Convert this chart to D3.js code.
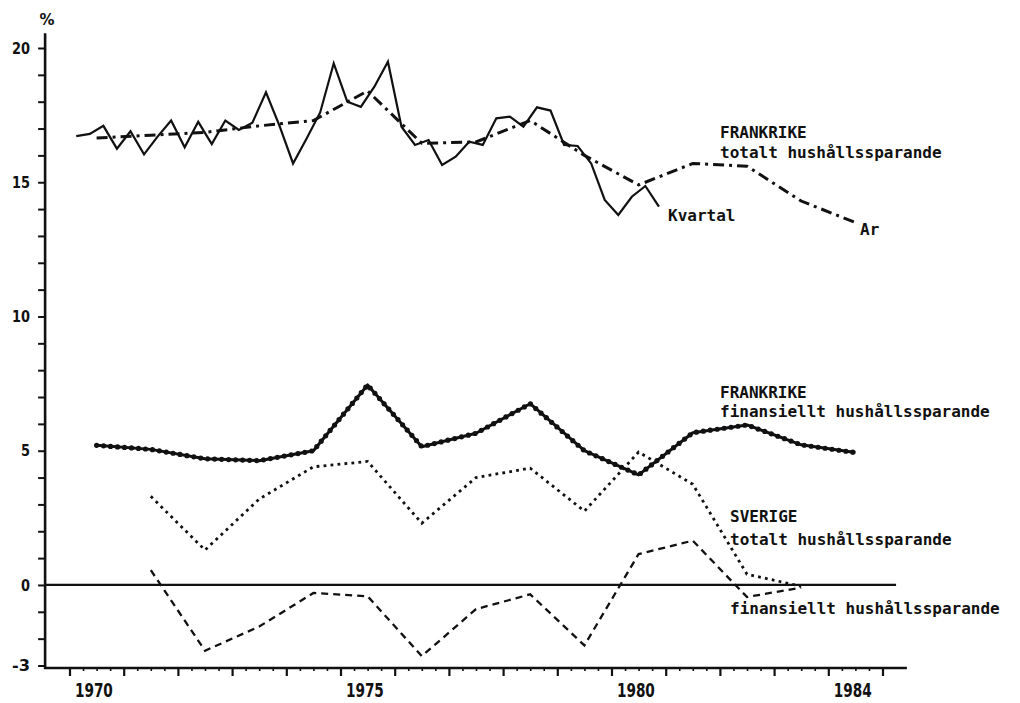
<!DOCTYPE html>
<html><head><meta charset="utf-8">
<script src="https://cdn.jsdelivr.net/npm/d3@7"></script>
<style>body{margin:0;background:#fff}</style>
</head><body>
<svg id="c" width="1020" height="703"></svg>
<script>
// ---------- data ----------
const years = d3.range(1970, 1985);                 // annual points 1970..1984
const quarterStartYear = 1970;                       // quarterly series starts 1970 Q1
const frTotalQuarterly = [
  16.72, 16.8, 17.1, 16.25, 16.9, 16.04, 16.7, 17.3,
  16.3, 17.25, 16.42, 17.3, 16.95, 17.22, 18.35, 17.1,
  15.7, 16.63, 17.6, 19.43, 18.0, 17.81, 18.56, 19.49,
  17.07, 16.39, 16.57, 15.64, 15.95, 16.51, 16.39, 17.38,
  17.44, 17.07, 17.79, 17.67, 16.39, 16.35, 15.7, 14.34,
  13.78, 14.46, 14.86, 14.09
];
const frTotalAnnual = [16.65, 16.75, 16.86, 17.1, 17.3, 18.4, 16.45, 16.5, 17.3, 16.0, 14.9, 15.7, 15.6, 14.3, 13.5];
const frFinAnnual   = [5.2, 5.05, 4.7, 4.63, 5.0, 7.45, 5.15, 5.65, 6.75, 5.0, 4.1, 5.67, 5.96, 5.22, 4.93];
const seYears = d3.range(1971, 1984);               // 1971..1983
const seTotalAnnual = [3.3, 1.3, 3.2, 4.4, 4.6, 2.3, 4.0, 4.35, 2.75, 4.95, 3.75, 0.4, -0.05];
const seFinAnnual   = [0.55, -2.45, -1.55, -0.3, -0.42, -2.65, -0.9, -0.35, -2.25, 1.15, 1.65, -0.45, -0.1];
const yTickLabels = [20, 15, 10, 5, 0, -3];
const xTickLabels = [1970, 1975, 1980, 1984];
const unitLabel = "%";

// ---------- setup ----------
const svg = d3.select("#c");
svg.append("rect").attr("width", 1020).attr("height", 703).attr("fill", "#fff");

const x = d3.scaleLinear().domain([1970, 1985]).range([69.5, 882.5]);
const y = d3.scaleLinear().domain([-3, 20]).range([665.5, 48]);
const axisY = 668;               // baseline of the x axis
const axisX = x(1969.55);        // position of the y axis

const ink = "#111";
const labelFont = "'DejaVu Sans Mono', monospace";
const numFont = "'DejaVu Sans', sans-serif";

// ---------- axes ----------
const yAxis = d3.axisLeft(y)
  .tickValues(d3.range(-3, 21))
  .tickSize(7)
  .tickPadding(8)
  .tickFormat(d => yTickLabels.includes(d) ? String(d) : "");
const gy = svg.append("g").attr("transform", `translate(${axisX},0)`).call(yAxis);
gy.select(".domain").remove();
gy.selectAll(".tick line").attr("stroke", ink).attr("stroke-width", 2);
gy.selectAll(".tick text")
  .attr("fill", ink)
  .style("font-family", numFont).style("font-weight", "bold").style("font-size", "16px")
  .each(function(d) {
    const s = yTickLabels.includes(d) ? String(d) : "";
    if (s) d3.select(this).attr("textLength", s.length * 9).attr("lengthAdjust", "spacingAndGlyphs");
  });

svg.append("line")
  .attr("x1", axisX).attr("x2", axisX)
  .attr("y1", y(20.55)).attr("y2", axisY + 1)
  .attr("stroke", ink).attr("stroke-width", 2.6);

// x axis: quarter ticks (short) and year ticks (long)
const quarterTicks = d3.range(0, 61).map(i => 1970 + i * 0.25);
const gxq = svg.append("g").attr("transform", `translate(0,${axisY})`)
  .call(d3.axisBottom(x).tickValues(quarterTicks.filter(t => t % 1 !== 0)).tickSize(3).tickFormat(""));
gxq.select(".domain").remove();
gxq.selectAll(".tick line").attr("stroke", ink).attr("stroke-width", 1.6);

const gxy = svg.append("g").attr("transform", `translate(0,${axisY})`)
  .call(d3.axisBottom(x).tickValues(d3.range(1970, 1986)).tickSize(8).tickFormat(""));
gxy.select(".domain").remove();
gxy.selectAll(".tick line").attr("stroke", ink).attr("stroke-width", 2.2);

svg.append("line")
  .attr("x1", axisX - 1).attr("x2", x(1985.45))
  .attr("y1", axisY).attr("y2", axisY)
  .attr("stroke", ink).attr("stroke-width", 2.4);

svg.append("g").selectAll("text").data(xTickLabels).join("text")
  .attr("x", d => x(d + 0.45))
  .attr("y", 697)
  .attr("text-anchor", "middle")
  .attr("fill", ink)
  .attr("textLength", 38).attr("lengthAdjust", "spacingAndGlyphs")
  .style("font-family", numFont).style("font-weight", "bold").style("font-size", "19px")
  .text(d => d);

// unit label
svg.append("text")
  .attr("x", axisX + 2).attr("y", 25)
  .attr("text-anchor", "middle")
  .attr("fill", ink)
  .style("font-family", numFont).style("font-weight", "bold").style("font-size", "15px")
  .text(unitLabel);

// zero line
svg.append("line")
  .attr("x1", axisX).attr("x2", x(1985.25))
  .attr("y1", y(0)).attr("y2", y(0))
  .attr("stroke", ink).attr("stroke-width", 2.2);

// ---------- series ----------
const line = d3.line().x(d => x(d[0])).y(d => y(d[1]));

const qData = frTotalQuarterly.map((v, i) => [quarterStartYear + i * 0.25 + 0.125, v]);
const frTotA = years.map((yr, i) => [yr + 0.5, frTotalAnnual[i]]);
const frFinA = years.map((yr, i) => [yr + 0.5, frFinAnnual[i]]);
const seTotA = seYears.map((yr, i) => [yr + 0.5, seTotalAnnual[i]]);
const seFinA = seYears.map((yr, i) => [yr + 0.5, seFinAnnual[i]]);

// Sverige finansiellt: dashed
svg.append("path").datum(seFinA).attr("d", line)
  .attr("fill", "none").attr("stroke", ink).attr("stroke-width", 2.3)
  .attr("stroke-dasharray", "7 5");

// Sverige totalt: dotted
svg.append("path").datum(seTotA).attr("d", line)
  .attr("fill", "none").attr("stroke", ink).attr("stroke-width", 2.8)
  .attr("stroke-dasharray", "2.8 4.2");

// Frankrike finansiellt: thick line with beads
svg.append("path").datum(frFinA).attr("d", line)
  .attr("fill", "none").attr("stroke", ink).attr("stroke-width", 3)
  .attr("stroke-linejoin", "round");
svg.append("path").datum(frFinA).attr("d", line)
  .attr("fill", "none").attr("stroke", ink).attr("stroke-width", 5.2)
  .attr("stroke-linecap", "round").attr("stroke-dasharray", "0 7");

// Frankrike totalt, annual: dash-dot
svg.append("path").datum(frTotA).attr("d", line)
  .attr("fill", "none").attr("stroke", ink).attr("stroke-width", 3)
  .attr("stroke-dasharray", "11 5 3 5");

// Frankrike totalt, quarterly: solid
svg.append("path").datum(qData).attr("d", line)
  .attr("fill", "none").attr("stroke", ink).attr("stroke-width", 2.2)
  .attr("stroke-linejoin", "miter");

// ---------- annotations ----------
const notes = [
  { t: "FRANKRIKE", x: 720, y: 138 },
  { t: "totalt hushållssparande", x: 720, y: 158 },
  { t: "Kvartal", x: 668, y: 221 },
  { t: "Ar", x: 860, y: 235 },
  { t: "FRANKRIKE", x: 720, y: 398 },
  { t: "finansiellt hushållssparande", x: 720, y: 417 },
  { t: "SVERIGE", x: 730, y: 522 },
  { t: "totalt hushållssparande", x: 730, y: 545 },
  { t: "finansiellt hushållssparande", x: 730, y: 614 }
];
svg.append("g").selectAll("text").data(notes).join("text")
  .attr("x", d => d.x).attr("y", d => d.y)
  .attr("fill", ink)
  .style("font-family", labelFont).style("font-weight", "bold").style("font-size", "16px")
  .text(d => d.t);
</script>
</body></html>
